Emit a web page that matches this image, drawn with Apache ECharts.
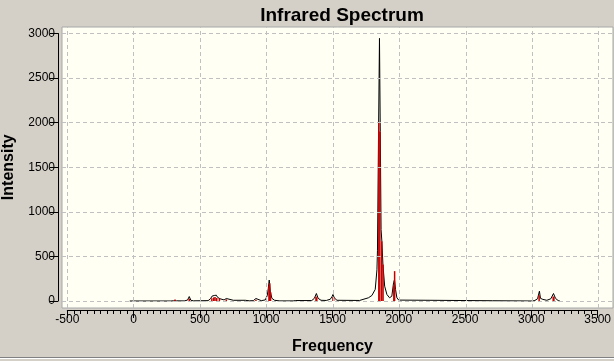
<!DOCTYPE html>
<html>
<head>
<meta charset="utf-8">
<script src="https://cdn.jsdelivr.net/npm/echarts@6/dist/echarts.min.js"></script>
<style>
  html, body { margin: 0; padding: 0; background: #d4d0c8; }
  #chart { width: 614px; height: 361px; }
</style>
</head>
<body>
<div id="chart"></div>
<script>
// Broadened spectrum (black curve)
const curveX = [-30, 280, 300, 311, 322, 380, 405, 418, 430, 450, 560, 578, 590, 598, 606, 614, 622, 632, 640, 650, 665, 680, 697, 710, 750, 840, 870, 900, 920, 935, 960, 990, 1005, 1013, 1020, 1028, 1040, 1060, 1100, 1200, 1220, 1340, 1360, 1375, 1388, 1410, 1450, 1480, 1493, 1500, 1510, 1530, 1700, 1767, 1793, 1818, 1831, 1835, 1843, 1850, 1856, 1862, 1868, 1876, 1889, 1906, 1926, 1943, 1956, 1963, 1971, 1981, 1995, 2230, 2240, 2700, 2710, 3000, 3020, 3040, 3054, 3062, 3080, 3110, 3140, 3160, 3175, 3195, 3208];
const curveY = [0, 0, 3, 8, 2, 1, 10, 50, 8, 2, 4, 25, 55, 45, 62, 48, 65, 40, 55, 25, 10, 12, 28, 12, 8, 8, 2, 4, 28, 6, 4, 12, 60, 140, 235, 110, 30, 8, 1, 1, 5, 5, 30, 84, 30, 8, 6, 20, 50, 73, 35, 8, 6, 36, 62, 130, 350, 570, 1880, 2946, 1900, 800, 670, 408, 166, 73, 36, 54, 204, 240, 129, 36, 10, 8, 3, 3, 0, 0, 6, 25, 110, 30, 18, 8, 25, 84, 30, 5, 0];
// Individual modes (red sticks)
const stickX = [311, 418, 588, 602, 612, 625, 645, 697, 920, 1018, 1024, 1030, 1372, 1378, 1500, 1505, 1845, 1853, 1867, 1877, 1958, 1964, 3052, 3158, 3163];
const stickY = [18, 25, 30, 40, 45, 35, 30, 18, 15, 170, 200, 100, 50, 40, 45, 40, 2010, 1900, 670, 410, 170, 335, 65, 50, 45];
// Tick values
const xTicks = [-500, 0, 500, 1000, 1500, 2000, 2500, 3000, 3500];
const yTicks = [0, 500, 1000, 1500, 2000, 2500, 3000];

const FONT = 'Liberation Sans, Arial, sans-serif';
const curveData = curveX.map((x, i) => [x, curveY[i]]);
const stickData = stickX.map((x, i) => [x, stickY[i]]);
const gridLineStyle = { color: '#c0c0c0', type: [4, 3], width: 1 };
const plain = v => String(v);

const chart = echarts.init(document.getElementById('chart'), null, { renderer: 'canvas' });
chart.setOption({
  animation: false,
  backgroundColor: '#d4d0c8',
  title: {
    text: 'Infrared Spectrum',
    left: 337, textAlign: 'center', top: 1,
    textStyle: { fontFamily: FONT, fontSize: 19, fontWeight: 'bold', color: '#000' }
  },
  grid: [
    { left: 62, top: 27, right: 1, bottom: 53, show: true, backgroundColor: '#fffff4', borderColor: '#a8a8a8', borderWidth: 1 },
    { left: 57, top: 33.5, width: 1, height: 267.5 },
    { left: 67.3, right: 15.4, top: 309, height: 1 }
  ],
  xAxis: [
    { gridIndex: 0, type: 'value', min: -540, max: 3608, show: false },
    { gridIndex: 1, type: 'value', show: false },
    {
      gridIndex: 2, type: 'value', position: 'bottom', min: -500, max: 3500, interval: 500,
      axisLine: { show: true, lineStyle: { color: '#000', width: 1 } },
      axisTick: { show: true, length: 8, lineStyle: { color: '#000' } },
      minorTick: { show: true, splitNumber: 10, length: 4, lineStyle: { color: '#000' } },
      splitLine: { show: false },
      axisLabel: { margin: 4, fontFamily: FONT, fontSize: 12, color: '#000', formatter: plain },
      name: 'Frequency', nameLocation: 'middle', nameGap: 29,
      nameTextStyle: { fontFamily: FONT, fontSize: 16, fontWeight: 'bold', color: '#000' }
    }
  ],
  yAxis: [
    { gridIndex: 0, type: 'value', min: -78.5, max: 3073, show: false },
    {
      gridIndex: 1, type: 'value', position: 'left', min: 0, max: 3000, interval: 500,
      axisLine: { show: true, lineStyle: { color: '#000', width: 1 } },
      axisTick: { show: true, length: 8, lineStyle: { color: '#000' } },
      splitLine: { show: false },
      axisLabel: { margin: 3, fontFamily: FONT, fontSize: 12, color: '#000', formatter: plain },
      name: 'Intensity', nameLocation: 'middle', nameGap: 41,
      nameTextStyle: { fontFamily: FONT, fontSize: 16, fontWeight: 'bold', color: '#000' }
    },
    { gridIndex: 2, type: 'value', show: false }
  ],
  series: [
    {
      name: 'gridlines', type: 'line', xAxisIndex: 0, yAxisIndex: 0, data: [], z: 1,
      markLine: {
        silent: true, symbol: 'none', animation: false,
        label: { show: false },
        lineStyle: gridLineStyle,
        emphasis: { disabled: true },
        data: xTicks.map(v => ({ xAxis: v })).concat(yTicks.map(v => ({ yAxis: v })))
      }
    },
    {
      name: 'spectrum', type: 'line', xAxisIndex: 0, yAxisIndex: 0, data: curveData, z: 3,
      showSymbol: false, symbol: 'none',
      lineStyle: { color: '#000', width: 1 }
    },
    {
      name: 'modes', type: 'bar', xAxisIndex: 0, yAxisIndex: 0, data: stickData, z: 4,
      barWidth: 1.5, itemStyle: { color: '#c40000' }
    }
  ],
  graphic: [
    { type: 'line', shape: { x1: 0, y1: 357.5, x2: 614, y2: 357.5 }, style: { stroke: '#808080', lineWidth: 1 }, silent: true },
    { type: 'line', shape: { x1: 0, y1: 358.5, x2: 614, y2: 358.5 }, style: { stroke: '#ffffff', lineWidth: 1 }, silent: true }
  ]
});
</script>
</body>
</html>
